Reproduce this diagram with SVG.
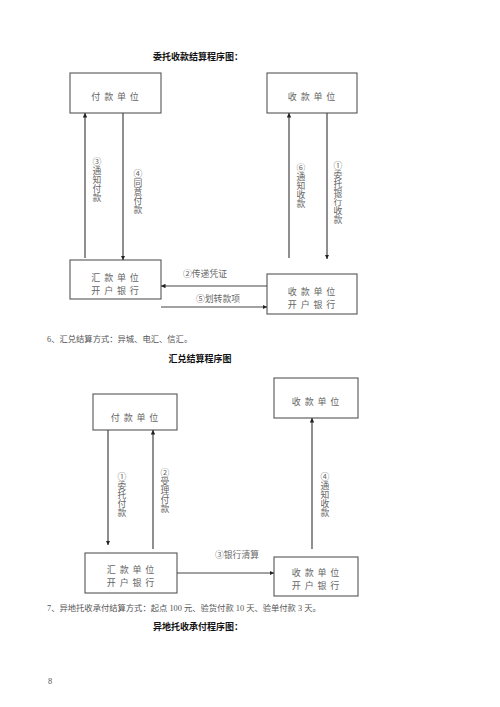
<svg xmlns="http://www.w3.org/2000/svg" width="500" height="707" viewBox="0 0 500 707">
<style>
text{font-family:"Liberation Serif","Noto Sans CJK SC",serif;}
.box{fill:#fff;stroke:#555;stroke-width:1.1}
.bt{font-size:9px;fill:#666;text-anchor:middle;letter-spacing:0.8px}
.lab{font-size:8.8px;fill:#666}
.v{font-size:8.8px;fill:#666;text-anchor:middle}
.h{font-size:9px;font-weight:bold;fill:#111}
.body{font-size:8.3px;fill:#555}
.ln{stroke:#444;stroke-width:1.2;fill:none}
</style>
<defs>
<marker id="ah" viewBox="0 0 8 8" refX="8" refY="4" markerWidth="4.5" markerHeight="4.5" orient="auto" markerUnits="userSpaceOnUse">
<path d="M0,0 L8,4 L0,8 z" fill="#222"/>
</marker>
</defs>
<rect width="500" height="707" fill="#fff"/>

<text class="h" x="198" y="60" text-anchor="middle">委托收款结算程序图：</text>

<g id="d1-payer"><rect class="box" x="70" y="73" width="91" height="40"/><text class="bt" x="115.5" y="100">付 款 单 位</text></g>
<g id="d1-payee"><rect class="box" x="267" y="73" width="90" height="40"/><text class="bt" x="312" y="100">收 款 单 位</text></g>
<g id="d1-payerbank"><rect class="box" x="70" y="260" width="91" height="39"/><text class="bt" x="115.5" y="281">汇 款 单 位</text><text class="bt" x="115.5" y="294">开 户 银 行</text></g>
<g id="d1-payeebank"><rect class="box" x="267" y="274" width="90" height="40"/><text class="bt" x="312" y="295">收 款 单 位</text><text class="bt" x="312" y="308">开 户 银 行</text></g>

<g id="d1-connectors">
<line class="ln" x1="85" y1="258" x2="85" y2="113" marker-end="url(#ah)"/>
<line class="ln" x1="123" y1="113" x2="123" y2="260" marker-end="url(#ah)"/>
<line class="ln" x1="289" y1="258" x2="289" y2="113" marker-end="url(#ah)"/>
<line class="ln" x1="327" y1="113" x2="327" y2="259" marker-end="url(#ah)"/>
<line class="ln" x1="267" y1="286" x2="161" y2="286" marker-end="url(#ah)"/>
<line class="ln" x1="161" y1="307" x2="267" y2="307" marker-end="url(#ah)"/>
<text class="v"><tspan x="97" y="165">③</tspan><tspan x="97" y="174">通</tspan><tspan x="97" y="183">知</tspan><tspan x="97" y="192">付</tspan><tspan x="97" y="201">款</tspan></text>
<text class="v"><tspan x="138" y="177">④</tspan><tspan x="138" y="186">同</tspan><tspan x="138" y="195">意</tspan><tspan x="138" y="204">付</tspan><tspan x="138" y="213">款</tspan></text>
<text class="v"><tspan x="301" y="171">⑥</tspan><tspan x="301" y="180">通</tspan><tspan x="301" y="189">知</tspan><tspan x="301" y="198">收</tspan><tspan x="301" y="207">款</tspan></text>
<text class="v"><tspan x="338" y="169">①</tspan><tspan x="338" y="178">委</tspan><tspan x="338" y="187">托</tspan><tspan x="338" y="196">银</tspan><tspan x="338" y="205">行</tspan><tspan x="338" y="214">收</tspan><tspan x="338" y="223">款</tspan></text>
<text class="lab" x="205" y="277" text-anchor="middle">②传递凭证</text>
<text class="lab" x="218" y="302" text-anchor="middle">⑤划转款项</text>
</g>

<text class="body" x="47" y="342">6、汇兑结算方式：异城、电汇、信汇。</text>
<text class="h" x="200" y="362" text-anchor="middle">汇兑结算程序图</text>

<g id="d2-payer"><rect class="box" x="93" y="394" width="84" height="36"/><text class="bt" x="135" y="421">付 款 单 位</text></g>
<g id="d2-payee"><rect class="box" x="274" y="378" width="84" height="40"/><text class="bt" x="316" y="405">收 款 单 位</text></g>
<g id="d2-payerbank"><rect class="box" x="85" y="553" width="92" height="40"/><text class="bt" x="131" y="573">汇 款 单 位</text><text class="bt" x="131" y="586">开 户 银 行</text></g>
<g id="d2-payeebank"><rect class="box" x="274" y="557" width="84" height="39"/><text class="bt" x="316" y="576">收 款 单 位</text><text class="bt" x="316" y="589">开 户 银 行</text></g>

<g id="d2-connectors">
<line class="ln" x1="108" y1="430" x2="108" y2="545" marker-end="url(#ah)"/>
<line class="ln" x1="153" y1="549" x2="153" y2="430" marker-end="url(#ah)"/>
<line class="ln" x1="312" y1="549" x2="312" y2="418" marker-end="url(#ah)"/>
<line class="ln" x1="177" y1="573" x2="274" y2="573" marker-end="url(#ah)"/>
<text class="v"><tspan x="122" y="480">①</tspan><tspan x="122" y="489">委</tspan><tspan x="122" y="498">托</tspan><tspan x="122" y="507">付</tspan><tspan x="122" y="516">款</tspan></text>
<text class="v"><tspan x="165" y="476">②</tspan><tspan x="165" y="485">受</tspan><tspan x="165" y="494">理</tspan><tspan x="165" y="503">付</tspan><tspan x="165" y="512">款</tspan></text>
<text class="v"><tspan x="325" y="480">④</tspan><tspan x="325" y="489">通</tspan><tspan x="325" y="498">知</tspan><tspan x="325" y="507">收</tspan><tspan x="325" y="516">款</tspan></text>
<text class="lab" x="237" y="558" text-anchor="middle">③银行清算</text>
</g>

<text class="body" x="47" y="611">7、异地托收承付结算方式：起点 100 元、验货付款 10 天、验单付款 3 天。</text>
<text class="h" x="153" y="630">异地托收承付程序图：</text>
<text class="body" x="48" y="684">8</text>
</svg>
